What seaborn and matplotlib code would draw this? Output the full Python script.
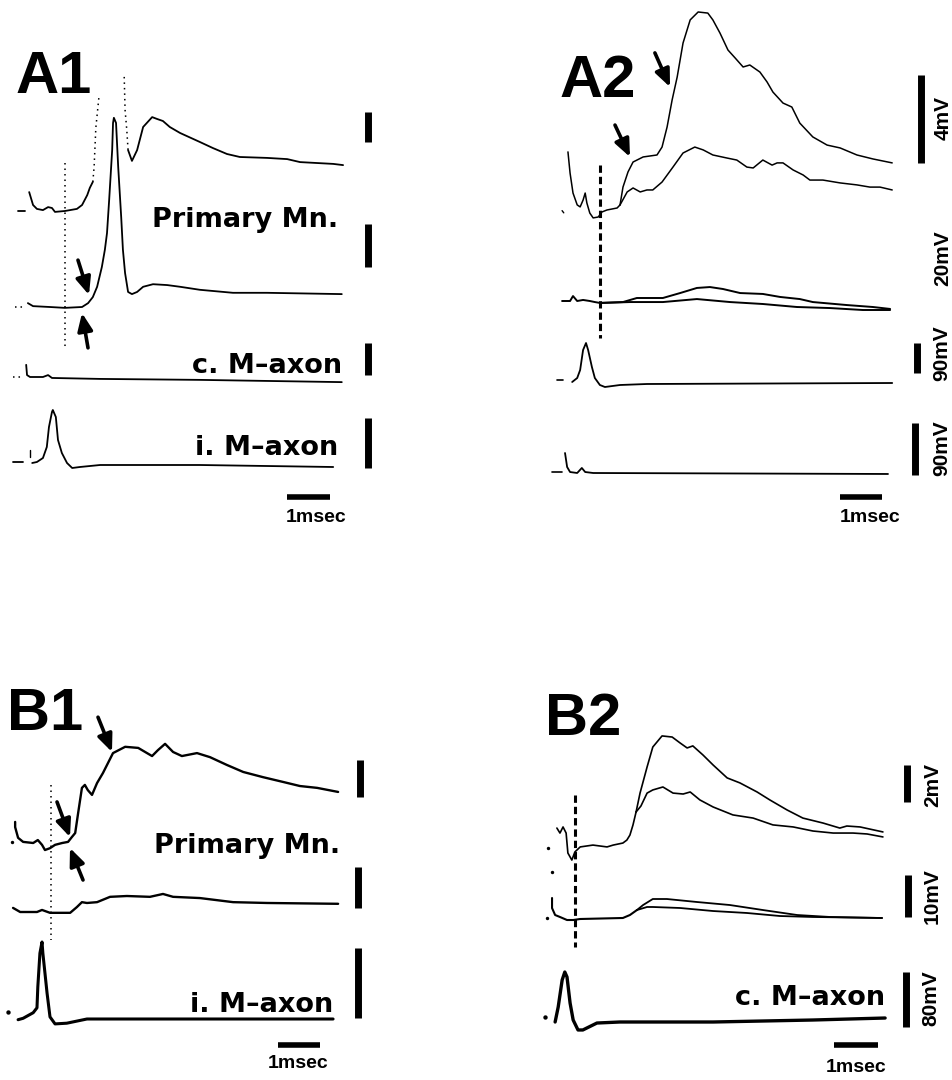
import matplotlib
matplotlib.use("Agg")
import matplotlib.pyplot as plt
import seaborn as sns

# ---------------------------------------------------------------- data
# time in msec, potentials in mV (A1/B1 bars are unlabelled: arbitrary units)
# ---- A1
A1_hi_pre_t = [0.0, 0.16]; A1_hi_pre_v = [0, 0]
A1_hi_t1 = [0.26, 0.35, 0.44, 0.58, 0.70, 0.79, 0.86, 1.09, 1.37, 1.49, 1.61, 1.67, 1.74]
A1_hi_v1 = [6.3, 2.0, 0.7, 0.3, 1.3, 1.0, -0.3, 0, 0.7, 2.0, 5.3, 7.7, 9.7]
A1_hi_rise_t = [1.74, 1.77, 1.81, 1.88]; A1_hi_rise_v = [9.7, 14.7, 27.7, 37.7]
A1_hi_fall_t = [2.47, 2.49, 2.53, 2.56]; A1_hi_fall_v = [44.7, 33.7, 27.0, 20.3]
A1_hi_t2 = [2.56, 2.65, 2.77, 2.91, 3.12, 3.23, 3.37, 3.53, 3.77, 4.23, 4.53, 4.86, 5.16, 5.79, 6.26, 6.56, 7.33, 7.56]
A1_hi_v2 = [20.3, 16.7, 20.3, 28.0, 31.3, 30.7, 30.0, 28.0, 26.0, 23.0, 21.0, 19.0, 18.0, 17.7, 17.3, 16.3, 15.7, 15.3]
A1_lo_pre_t = [-0.07, 0.16]; A1_lo_pre_v = [0, 0]
A1_lo_t = [0.23, 0.35, 0.74, 1.09, 1.49, 1.63, 1.74, 1.84, 1.95, 2.02, 2.07, 2.12, 2.19, 2.21, 2.23, 2.28,
           2.33, 2.40, 2.44, 2.49, 2.56, 2.65, 2.77, 2.91, 3.14, 3.47, 3.77, 4.23, 5.0, 5.79, 7.53]
A1_lo_v = [0.9, 0.2, 0, -0.2, 0, 0.9, 2.3, 4.7, 9.3, 13.3, 17.2, 24.9, 36.5, 42.8, 44.0, 42.8,
           32.6, 20.9, 13.3, 7.9, 3.5, 3.0, 3.5, 4.7, 5.3, 5.1, 4.7, 4.0, 3.3, 3.3, 3.0]
A1_c_pre_t = [-0.12, 0.12]; A1_c_pre_v = [0, 0]
A1_c_t = [0.19, 0.21, 0.28, 0.58, 0.70, 0.79, 1.91, 4.23, 7.53]
A1_c_v = [3.8, 0.6, 0, 0, 0.6, -0.3, -0.6, -0.9, -1.6]
A1_i_pre_t = [-0.12, 0.12]; A1_i_pre_v = [0, 0]
A1_i_t = [0.33, 0.44, 0.58, 0.67, 0.72, 0.79, 0.81, 0.88, 0.93, 1.02, 1.14, 1.26, 1.44, 1.91, 4.23, 7.33]
A1_i_v = [-0.2, 0, 0.8, 3.0, 7.0, 10.0, 10.4, 9.0, 4.4, 1.8, -0.2, -1.2, -1.0, -0.6, -0.6, -1.0]
A1_marker_t = 1.09
A1_bar_units = 10

# ---- A2
A2_ep_common_t = [0.38, 0.43, 0.50, 0.60, 0.67, 0.74, 0.79, 0.83, 0.90, 0.98, 1.10, 1.19, 1.31, 1.55, 1.62]
A2_ep_common_v = [2.55, 1.59, 0.68, 0.14, 0.05, 0.36, 0.68, 0.23, -0.23, -0.45, -0.41, -0.18, -0.09, 0, 0.14]
A2_ep_big_t = [1.62, 1.69, 1.81, 1.93, 2.17, 2.50, 2.62, 2.74, 2.86, 2.98, 3.12, 3.29, 3.48, 3.71, 3.83, 4.00,
               4.19, 4.36, 4.55, 4.71, 4.95, 5.12, 5.26, 5.50, 5.71, 5.90, 6.21, 6.55, 6.86, 7.26, 7.64, 8.10]
A2_ep_big_v = [0.14, 0.95, 1.64, 2.09, 2.32, 2.41, 2.77, 3.68, 4.91, 5.95, 7.50, 8.55, 8.91, 8.86, 8.55, 7.95,
               7.18, 6.82, 6.41, 6.50, 6.18, 5.73, 5.27, 4.77, 4.59, 3.86, 3.23, 2.86, 2.73, 2.41, 2.23, 2.05]
A2_ep_small_t = [1.62, 1.79, 1.93, 2.10, 2.26, 2.40, 2.62, 2.88, 3.12, 3.40, 3.60, 3.83, 4.17, 4.40, 4.64,
                 4.79, 5.02, 5.24, 5.36, 5.50, 5.74, 5.98, 6.14, 6.45, 6.86, 7.26, 7.57, 7.81, 8.10]
A2_ep_small_v = [0.14, 0.73, 0.91, 0.73, 0.82, 0.82, 1.18, 1.86, 2.50, 2.77, 2.64, 2.41, 2.27, 2.18, 1.86,
                 1.82, 2.18, 1.95, 2.05, 2.05, 1.73, 1.50, 1.27, 1.27, 1.14, 1.05, 0.95, 0.95, 0.82]
A2_ep_art_t = [0.24, 0.28]; A2_ep_art_v = [-0.12, -0.22]
A2_mid_common_t = [0.24, 0.43, 0.50, 0.60, 0.74, 0.90, 1.02, 1.14]
A2_mid_common_v = [0, 0, 3.3, 0, 0.7, 0, -0.7, -1.3]
A2_mid_up_t = [1.14, 1.69, 2.02, 2.64, 3.05, 3.45, 3.76, 4.07, 4.48, 5.02, 5.43, 5.90, 6.21, 7.02, 7.64, 8.05]
A2_mid_up_v = [-1.3, -0.7, 2.0, 2.0, 5.3, 8.7, 9.3, 8.0, 5.3, 4.7, 2.7, 1.3, -0.7, -2.7, -4.0, -5.3]
A2_mid_lo_t = [1.14, 1.86, 2.64, 3.45, 4.24, 5.02, 5.83, 6.62, 7.40, 8.05]
A2_mid_lo_v = [-1.3, -0.7, -0.7, 1.3, -0.7, -2.0, -4.0, -4.7, -6.0, -6.0]
A2_c_pre_t = [0.12, 0.26]; A2_c_pre_v = [9, 9]
A2_c_t = [0.48, 0.60, 0.67, 0.74, 0.81, 0.86, 0.95, 1.02, 1.14, 1.26, 1.62, 2.26, 8.10]
A2_c_v = [3, 15, 39, 99, 120, 99, 48, 15, -6, -12, -6, -3, 0]
A2_i_pre_t = [0.0, 0.24]; A2_i_pre_v = [1.7, 1.7]
A2_i_t = [0.31, 0.36, 0.43, 0.60, 0.71, 0.79, 0.98, 8.0]
A2_i_v = [34.6, 10.4, 1.7, 0, 8.7, 1.7, 0, -1.7]
A2_marker_t = 1.14
A2_scale_mV = [4, 20, 90, 90]

# ---- B1
B1_hi_t = [0.17, 0.17, 0.24, 0.36, 0.60, 0.71, 0.81, 0.88, 1.00, 1.12, 1.29, 1.43, 1.52, 1.60, 1.67, 1.76,
           1.83, 1.90, 2.00, 2.12, 2.26, 2.50, 2.79, 3.10, 3.43, 3.57, 3.74, 3.93, 4.14, 4.50, 4.81, 5.21,
           5.60, 6.07, 6.55, 6.95, 7.36, 7.86]
B1_hi_v = [5.7, 4.3, 1.4, 0.3, 0, 0.8, -0.5, -1.9, -1.4, -0.5, 0, 0.3, 1.6, 2.7, 8.1, 14.9,
           15.7, 14.3, 13.0, 16.2, 18.9, 24.3, 26.0, 25.7, 23.5, 25.1, 26.8, 24.6, 23.5, 24.3, 23.2, 21.1,
           19.2, 17.8, 16.5, 15.4, 14.9, 13.8]
B1_hi_dot_t = [0.10]; B1_hi_dot_v = [0.3]
B1_mid_t = [0.12, 0.29, 0.69, 0.81, 1.00, 1.48, 1.64, 1.76, 1.88, 2.12, 2.43, 2.83, 3.38, 3.69, 3.93,
            4.57, 5.36, 6.17, 7.86]
B1_mid_v = [1.0, 0, 0, 0.5, -0.2, -0.2, 1.2, 2.4, 2.2, 2.4, 3.7, 3.9, 3.7, 4.4, 3.7, 3.4, 2.4, 2.2, 2.0]
B1_i_t = [0.24, 0.36, 0.60, 0.69, 0.71, 0.76, 0.81, 0.83, 0.93, 1.00, 1.12, 1.40, 1.88, 2.98, 7.74]
B1_i_v = [-0.1, 0.1, 0.9, 1.6, 4.6, 9.4, 11.0, 9.4, 3.7, 0.3, -0.7, -0.6, 0, 0, 0]
B1_i_dot_t = [0.0]; B1_i_dot_v = [1.0]
B1_marker_t = 1.02
B1_bar_units = 10

# ---- B2
B2_ep_common_t = [0.27, 0.34, 0.41, 0.48, 0.52, 0.61, 0.68, 0.80, 1.09, 1.41, 1.55, 1.77, 1.86, 1.93, 2.0, 2.07]
B2_ep_common_v = [0.97, 0.70, 1.03, 0.70, -0.38, -0.76, -0.32, -0.05, 0.05, -0.05, 0.05, 0.16, 0.32, 0.59, 1.14, 1.84]
B2_ep_up_t = [2.07, 2.16, 2.32, 2.45, 2.66, 2.89, 3.07, 3.23, 3.36, 3.59, 3.82, 4.14, 4.43, 4.82, 5.11,
              5.50, 5.86, 6.32, 6.70, 6.86, 7.16, 7.68]
B2_ep_up_v = [1.84, 2.86, 4.27, 5.35, 5.95, 5.89, 5.57, 5.30, 5.41, 4.92, 4.38, 3.68, 3.41, 2.92, 2.49,
              1.95, 1.51, 1.24, 0.97, 1.08, 1.03, 0.76]
B2_ep_lo_t = [2.07, 2.18, 2.32, 2.45, 2.68, 2.91, 3.14, 3.30, 3.52, 3.82, 4.27, 4.73, 5.18, 5.64, 6.09,
              6.55, 7.0, 7.32, 7.68]
B2_ep_lo_v = [1.84, 2.16, 2.86, 3.03, 3.19, 2.86, 2.81, 2.92, 2.49, 2.11, 1.68, 1.51, 1.14, 1.03, 0.81,
              0.70, 0.70, 0.65, 0.49]
B2_ep_dot_t = [0.07]; B2_ep_dot_v = [-0.11]
B2_mid_common_t = [0.16, 0.16, 0.23, 0.34, 0.50, 0.64, 0.80, 1.77, 1.93, 2.09]
B2_mid_common_v = [5.0, 2.6, 0.95, 0.48, -0.24, -0.24, 0, 0.24, 0.95, 2.14]
B2_mid_up_t = [2.09, 2.23, 2.45, 2.77, 3.45, 4.20, 4.95, 5.73, 6.48, 7.66]
B2_mid_up_v = [2.14, 3.33, 4.76, 4.76, 4.05, 3.33, 2.14, 0.95, 0.48, 0.24]
B2_mid_lo_t = [2.09, 2.32, 2.45, 3.07, 3.82, 4.59, 5.34, 6.09, 7.66]
B2_mid_lo_v = [2.14, 2.86, 2.86, 2.62, 1.90, 1.43, 0.71, 0.48, 0.24]
B2_mid_dot_t = [0.05, 0.16]; B2_mid_dot_v = [0.24, 11.2]
B2_c_t = [0.23, 0.30, 0.39, 0.45, 0.50, 0.57, 0.64, 0.75, 0.86, 1.18, 1.70, 3.82, 6.09, 7.73]
B2_c_v = [0, 21.8, 61.1, 72.7, 65.5, 27.6, 2.9, -11.6, -11.6, -1.5, 0, 0, 2.9, 5.8]
B2_c_dot_t = [0.0]; B2_c_dot_v = [7.3]
B2_marker_t = 0.68
B2_scale_mV = [2, 10, 80]

time_bar_ms = 1

# ---------------------------------------------------------------- figure
sns.set_style("white")
plt.rcParams["font.family"] = ["Liberation Sans", "DejaVu Sans"]
W, H = 952, 1080
fig = plt.figure(figsize=(W / 100, H / 100), dpi=100)
axes_all = []


def make_ax(x0, y0, pxms, pxmv, vlim, tlim=(-0.5, 10.0)):
    left = (x0 + tlim[0] * pxms) / W
    width = (tlim[1] - tlim[0]) * pxms / W
    bottom = (H - y0 + vlim[0] * pxmv) / H
    height = (vlim[1] - vlim[0]) * pxmv / H
    ax = fig.add_axes([left, bottom, width, height])
    ax.set_xlim(*tlim)
    ax.set_ylim(*vlim)
    ax.set_axis_off()
    ax.patch.set_visible(False)
    axes_all.append((ax, tlim, vlim))
    return ax


def trace(ax, t, v, lw=1.3, ls="-"):
    sns.lineplot(x=t, y=v, ax=ax, color="black", lw=lw, linestyle=ls, sort=False,
                 estimator=None, clip_on=False, solid_capstyle="round")


def dots(ax, t, v, s=6):
    sns.scatterplot(x=t, y=v, ax=ax, color="black", s=s, linewidth=0, clip_on=False)


def vbar(ax, t, v0, length, lw=5):
    sns.lineplot(x=[t, t], y=[v0, v0 + length], ax=ax, color="black", lw=lw, sort=False,
                 estimator=None, clip_on=False, solid_capstyle="butt")


def hbar(ax, t0, v, length, lw=4):
    sns.lineplot(x=[t0, t0 + length], y=[v, v], ax=ax, color="black", lw=lw, sort=False,
                 estimator=None, clip_on=False, solid_capstyle="butt")


def arrow(ax, tail, head):
    ax.annotate("", xy=head, xytext=tail, annotation_clip=False,
                arrowprops=dict(arrowstyle="-|>,head_length=0.7,head_width=0.3", color="black",
                                lw=2.6, mutation_scale=15, shrinkA=0, shrinkB=0))


def ftext(x, y, s, **kw):
    fig.text(x / W, 1 - y / H, s, color="black", **kw)


DOT = (0, (1, 2.6))
DASH = (0, (2.4, 1.3))
panel_kw = dict(fontsize=43, fontweight="bold", family=["Liberation Sans"], ha="left", va="baseline")
name_kw = dict(fontsize=19.5, fontweight="bold", family=["DejaVu Sans"], ha="right", va="baseline")
unit_kw = dict(fontsize=15, fontweight="bold", rotation=90, ha="center", va="center")
ms_kw = dict(fontsize=14, fontweight="bold", ha="center", va="center")

# ---------------------------------------------------------------- A1
a_hi = make_ax(18, 211, 43, 3.0, (-20, 50))
a_lo = make_ax(18, 307, 43, 4.3, (-15, 50))
a_c = make_ax(18, 377, 43, 3.2, (-5, 15))
a_i = make_ax(18, 462, 43, 5.0, (-12, 12))
trace(a_hi, A1_hi_pre_t, A1_hi_pre_v)
trace(a_hi, A1_hi_t1, A1_hi_v1)
trace(a_hi, A1_hi_rise_t, A1_hi_rise_v, lw=1.1, ls=DOT)
trace(a_hi, A1_hi_fall_t, A1_hi_fall_v, lw=1.1, ls=DOT)
trace(a_hi, A1_hi_t2, A1_hi_v2)
trace(a_lo, A1_lo_pre_t, A1_lo_pre_v, lw=1.1, ls=DOT)
trace(a_lo, A1_lo_t, A1_lo_v)
trace(a_c, A1_c_pre_t, A1_c_pre_v, lw=1.1, ls=DOT)
trace(a_c, A1_c_t, A1_c_v)
trace(a_i, A1_i_pre_t, A1_i_pre_v)
trace(a_i, [0.28, 0.28], [1.0, 2.4], lw=1.0)
trace(a_i, A1_i_t, A1_i_v)
trace(a_lo, [A1_marker_t, A1_marker_t], [33.5, -9.3], lw=1.1, ls=DOT)
vbar(a_hi, 8.14, 23, A1_bar_units)
vbar(a_lo, 8.14, 9.3, A1_bar_units)
vbar(a_c, 8.14, 0.6, A1_bar_units)
vbar(a_i, 8.14, -1.2, A1_bar_units)
hbar(a_i, 6.256, -7.0, time_bar_ms)
arrow(a_lo, (1.395, 10.9), (1.651, 2.8))
arrow(a_lo, (1.628, -9.5), (1.488, -1.4))
ftext(16, 93, "A1", **panel_kw)
ftext(338, 227, "Primary Mn.", **name_kw)
ftext(342, 373, "c. M\u2013axon", **name_kw)
ftext(338, 455, "i. M\u2013axon", **name_kw)
ftext(316, 518, "1msec", **ms_kw)

# ---------------------------------------------------------------- A2
b_ep = make_ax(552, 208, 42, 22.0, (-7, 10))
b_mid = make_ax(552, 301, 42, 1.5, (-10, 40))
b_c = make_ax(552, 383, 42, 1 / 3, (-20, 130))
b_i = make_ax(552, 473, 42, 52 / 90, (-90, 100))
trace(b_ep, A2_ep_art_t, A2_ep_art_v, lw=1.0)
trace(b_ep, A2_ep_common_t, A2_ep_common_v, lw=1.1)
trace(b_ep, A2_ep_big_t, A2_ep_big_v, lw=1.1)
trace(b_ep, A2_ep_small_t, A2_ep_small_v, lw=1.1)
trace(b_mid, A2_mid_common_t, A2_mid_common_v, lw=1.4)
trace(b_mid, A2_mid_up_t, A2_mid_up_v, lw=1.4)
trace(b_mid, A2_mid_lo_t, A2_mid_lo_v, lw=1.4)
trace(b_c, A2_c_pre_t, A2_c_pre_v, lw=1.2)
trace(b_c, A2_c_t, A2_c_v, lw=1.3)
trace(b_i, A2_i_pre_t, A2_i_pre_v, lw=1.2)
trace(b_i, A2_i_t, A2_i_v, lw=1.3)
trace(b_ep, [A2_marker_t, A2_marker_t], [1.95, -5.9], lw=2.2, ls=DASH)
vbar(b_ep, 8.786, 2.05, A2_scale_mV[0])
vbar(b_c, 8.69, 30, A2_scale_mV[2])
vbar(b_i, 8.643, -3.5, A2_scale_mV[3])
hbar(b_i, 6.857, -41.5, time_bar_ms)
arrow(b_ep, (2.45, 7.05), (2.81, 5.5))
arrow(b_ep, (1.50, 3.77), (1.857, 2.32))
ftext(560, 97, "A2", **panel_kw)
ftext(943, 118, f"{A2_scale_mV[0]}mV", **unit_kw)
ftext(943, 258, f"{A2_scale_mV[1]}mV", **unit_kw)
ftext(942, 353, f"{A2_scale_mV[2]}mV", **unit_kw)
ftext(942, 448, f"{A2_scale_mV[3]}mV", **unit_kw)
ftext(870, 518, "1msec", **ms_kw)

# ---------------------------------------------------------------- B1
c_hi = make_ax(8, 843, 42, 3.7, (-15, 40))
c_mid = make_ax(8, 912, 42, 4.1, (-10, 35))
c_i = make_ax(8, 1019, 42, 7.0, (-8, 14))
dots(c_hi, B1_hi_dot_t, B1_hi_dot_v)
trace(c_hi, B1_hi_t, B1_hi_v, lw=1.7)
trace(c_mid, B1_mid_t, B1_mid_v, lw=1.7)
dots(c_i, B1_i_dot_t, B1_i_dot_v, s=10)
trace(c_i, B1_i_t, B1_i_v, lw=2.2)
trace(c_mid, [B1_marker_t, B1_marker_t], [31.0, -6.8], lw=1.1, ls=DOT)
vbar(c_hi, 8.381, 12.4, B1_bar_units)
vbar(c_mid, 8.333, 0.98, B1_bar_units)
vbar(c_i, 8.333, 0.14, B1_bar_units)
hbar(c_i, 6.429, -3.71, time_bar_ms)
arrow(c_hi, (2.143, 34.0), (2.476, 24.6))
arrow(c_hi, (1.167, 11.1), (1.476, 1.6))
arrow(c_hi, (1.786, -10.0), (1.476, -1.35))
ftext(7, 730, "B1", **panel_kw)
ftext(340, 853, "Primary Mn.", **name_kw)
ftext(333, 1012, "i. M\u2013axon", **name_kw)
ftext(298, 1063, "1msec", **ms_kw)

# ---------------------------------------------------------------- B2
d_ep = make_ax(545, 846, 44, 18.5, (-3, 8))
d_mid = make_ax(545, 919, 44, 4.2, (-10, 32))
d_c = make_ax(545, 1022, 44, 0.6875, (-80, 90))
dots(d_ep, B2_ep_dot_t, B2_ep_dot_v)
trace(d_ep, B2_ep_common_t, B2_ep_common_v, lw=1.2)
trace(d_ep, B2_ep_up_t, B2_ep_up_v, lw=1.2)
trace(d_ep, B2_ep_lo_t, B2_ep_lo_v, lw=1.2)
dots(d_mid, B2_mid_dot_t, B2_mid_dot_v)
trace(d_mid, B2_mid_common_t, B2_mid_common_v, lw=1.5)
trace(d_mid, B2_mid_up_t, B2_mid_up_v, lw=1.3)
trace(d_mid, B2_mid_lo_t, B2_mid_lo_v, lw=1.3)
dots(d_c, B2_c_dot_t, B2_c_dot_v, s=10)
trace(d_c, B2_c_t, B2_c_v, lw=2.4)
trace(d_mid, [B2_marker_t, B2_marker_t], [29.5, -6.7], lw=2.2, ls=DASH)
vbar(d_ep, 8.227, 2.38, B2_scale_mV[0])
vbar(d_mid, 8.25, 0.48, B2_scale_mV[1])
vbar(d_c, 8.205, -7.3, B2_scale_mV[2])
hbar(d_c, 6.568, -33.5, time_bar_ms)
ftext(545, 735, "B2", **panel_kw)
ftext(933, 785, f"{B2_scale_mV[0]}mV", **unit_kw)
ftext(932, 896, f"{B2_scale_mV[1]}mV", **unit_kw)
ftext(931, 998, f"{B2_scale_mV[2]}mV", **unit_kw)
ftext(885, 1005, "c. M\u2013axon", **name_kw)
ftext(856, 1067, "1msec", **ms_kw)

for ax, tl, vl in axes_all:
    ax.set_xlim(*tl)
    ax.set_ylim(*vl)
    leg = ax.get_legend()
    if leg is not None:
        leg.remove()

fig.savefig("out.png", dpi=100, facecolor="white")
